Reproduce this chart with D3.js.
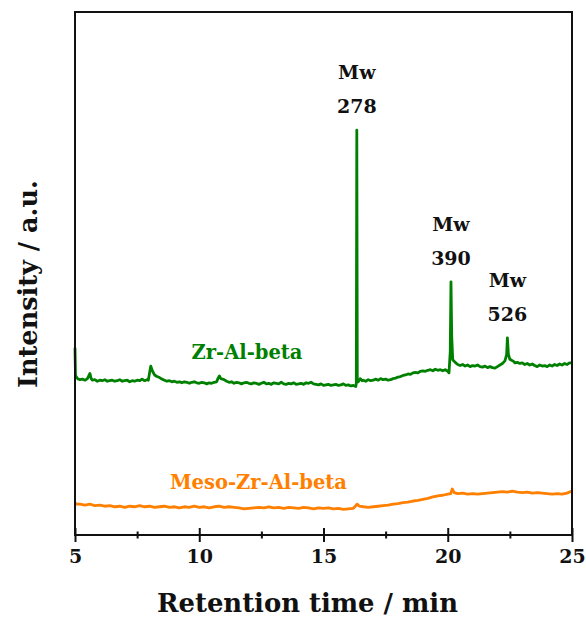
<!DOCTYPE html>
<html>
<head>
<meta charset="utf-8">
<script src="https://cdn.jsdelivr.net/npm/d3@7/dist/d3.min.js"></script>
<style>
  html, body { margin: 0; padding: 0; background: #fff; }
  svg { display: block; }
  text { font-family: "DejaVu Serif", "Liberation Serif", serif; font-weight: bold; }
</style>
</head>
<body>
<svg id="chart" width="586" height="619"></svg>
<script>
// GPC traces: retention time (min) vs detector intensity (a.u.)
const zrAlBeta = [
  [5.00,35.8],[5.02,30.5],[5.1,29.9],[5.2,29.7],[5.3,29.8],[5.4,29.6],[5.5,29.9],[5.6,30.9],[5.65,29.9],
  [5.7,29.6],[5.8,29.7],[5.9,29.4],[6.0,29.6],[6.1,29.5],[6.2,29.7],[6.3,29.4],[6.4,29.5],[6.5,29.6],
  [6.6,29.4],[6.7,29.5],[6.8,29.7],[6.9,29.4],[7.0,29.5],[7.1,29.6],[7.2,29.3],[7.3,29.5],[7.4,29.4],
  [7.5,29.6],[7.6,29.5],[7.7,29.8],[7.8,29.5],[7.9,29.7],[7.95,29.6],[8.0,31.0],[8.05,32.3],[8.11,31.4],
  [8.2,30.6],[8.3,30.3],[8.4,30.1],[8.5,29.8],[8.6,29.6],[8.7,29.4],[8.8,29.5],[8.9,29.3],[9.0,29.4],
  [9.1,29.2],[9.2,29.3],[9.3,29.1],[9.4,29.3],[9.5,29.2],[9.6,29.0],[9.7,29.2],[9.8,29.3],[9.9,29.1],
  [10.0,29.0],[10.1,29.2],[10.2,29.1],[10.3,28.9],[10.4,29.1],[10.5,29.0],[10.6,29.2],[10.7,29.3],
  [10.76,30.0],[10.81,30.4],[10.87,29.9],[11.0,29.7],[11.1,29.4],[11.2,29.2],[11.3,29.3],[11.4,29.0],
  [11.5,29.2],[11.6,29.1],[11.7,28.9],[11.8,29.1],[11.9,29.2],[12.0,29.0],[12.1,28.9],[12.2,29.1],
  [12.3,29.0],[12.4,28.8],[12.5,29.0],[12.6,29.2],[12.7,28.9],[12.8,29.0],[12.9,28.8],[13.0,29.1],
  [13.1,29.0],[13.2,28.9],[13.3,29.2],[13.4,28.9],[13.5,28.8],[13.6,29.0],[13.7,28.9],[13.8,29.1],
  [13.9,28.8],[14.0,28.9],[14.1,29.0],[14.2,28.8],[14.3,29.1],[14.4,29.0],[14.5,29.2],[14.6,28.9],
  [14.7,28.8],[14.8,28.7],[14.9,28.9],[15.0,28.6],[15.1,28.7],[15.2,28.8],[15.3,28.6],[15.4,28.7],
  [15.5,28.8],[15.6,28.6],[15.7,28.7],[15.8,28.9],[15.9,28.6],[16.0,28.7],[16.1,28.5],[16.2,28.6],
  [16.3,28.4],[16.32,29.0],[16.34,77.4],[16.36,29.6],[16.4,29.3],[16.48,29.9],[16.55,29.5],[16.6,29.6],
  [16.7,29.4],[16.8,29.7],[16.9,29.5],[17.0,29.6],[17.1,29.8],[17.2,29.6],[17.3,29.9],[17.4,29.7],
  [17.5,29.8],[17.6,29.6],[17.7,29.7],[17.8,29.9],[17.9,30.0],[18.0,30.2],[18.1,30.3],[18.2,30.5],
  [18.3,30.6],[18.4,30.8],[18.5,30.7],[18.6,31.0],[18.7,31.1],[18.8,31.0],[18.9,31.3],[19.0,31.4],
  [19.1,31.3],[19.2,31.5],[19.3,31.6],[19.4,31.4],[19.5,31.7],[19.6,31.5],[19.7,31.6],[19.8,31.4],
  [19.9,31.6],[20.0,31.3],[20.05,31.0],[20.10,35.0],[20.13,48.4],[20.16,38.0],[20.2,33.5],[20.3,33.0],
  [20.4,32.6],[20.5,32.4],[20.6,32.6],[20.7,32.3],[20.8,32.5],[20.9,32.2],[21.0,32.4],[21.1,32.3],
  [21.2,32.5],[21.3,32.2],[21.4,32.1],[21.5,32.3],[21.6,32.0],[21.7,32.2],[21.8,32.0],[21.9,31.9],
  [22.0,32.2],[22.1,32.5],[22.2,32.8],[22.3,33.3],[22.37,34.5],[22.40,37.7],[22.44,34.6],[22.5,33.6],
  [22.57,33.4],[22.65,33.2],[22.7,32.9],[22.8,33.0],[22.9,32.8],[23.0,32.9],[23.1,32.6],[23.2,32.8],
  [23.3,32.5],[23.4,32.7],[23.5,32.4],[23.6,32.2],[23.7,32.5],[23.8,32.3],[23.9,32.4],[24.0,32.2],
  [24.1,32.5],[24.2,32.3],[24.3,32.6],[24.4,32.4],[24.5,32.7],[24.6,32.5],[24.7,32.8],[24.8,32.6],
  [24.9,32.9],[25.0,32.9]
];

const mesoZrAlBeta = [
  [5.0,6.2],[5.05,5.9],[5.2,5.9],[5.4,5.7],[5.6,5.9],[5.8,5.6],[6.0,5.7],[6.2,5.5],[6.4,5.6],[6.6,5.4],
  [6.8,5.5],[7.0,5.3],[7.2,5.5],[7.4,5.4],[7.6,5.6],[7.8,5.4],[8.0,5.5],[8.2,5.3],[8.4,5.4],[8.6,5.5],
  [8.8,5.3],[9.0,5.4],[9.2,5.2],[9.4,5.4],[9.6,5.3],[9.8,5.5],[10.0,5.3],[10.2,5.4],[10.4,5.2],[10.6,5.4],
  [10.8,5.5],[11.0,5.3],[11.2,5.4],[11.4,5.3],[11.6,5.2],[11.8,5.0],[12.0,5.1],[12.2,5.2],[12.4,5.3],
  [12.6,5.2],[12.8,5.4],[13.0,5.2],[13.2,5.3],[13.4,5.1],[13.6,5.3],[13.8,5.2],[14.0,5.1],[14.2,5.3],
  [14.4,5.2],[14.6,5.0],[14.8,5.2],[15.0,5.1],[15.2,5.2],[15.4,5.0],[15.6,5.1],[15.8,4.9],[16.0,5.0],
  [16.2,5.1],[16.3,5.6],[16.35,5.9],[16.45,5.5],[16.6,5.4],[16.8,5.3],[17.0,5.4],[17.2,5.5],[17.4,5.6],
  [17.6,5.7],[17.8,5.9],[18.0,6.0],[18.2,6.2],[18.4,6.3],[18.6,6.5],[18.8,6.6],[19.0,6.8],[19.2,7.0],
  [19.4,7.3],[19.6,7.5],[19.8,7.6],[20.0,7.8],[20.12,7.9],[20.18,8.8],[20.26,8.1],[20.4,7.9],[20.6,8.0],
  [20.8,7.8],[21.0,7.9],[21.2,7.8],[21.4,7.9],[21.6,8.0],[21.8,8.1],[22.0,8.2],[22.2,8.3],[22.4,8.2],
  [22.6,8.4],[22.8,8.2],[23.0,8.1],[23.2,8.2],[23.4,8.0],[23.6,8.1],[23.8,8.0],[24.0,7.9],[24.2,7.8],
  [24.4,7.9],[24.6,7.8],[24.8,8.0],[25.0,8.4]
];

// Peaks annotated with molecular weight
const peakTimes = [16.34, 20.13, 22.40];
const peakHeights = [77.4, 48.4, 37.7];
const peakMw = ["278", "390", "526"];

const majorTicks = [5, 10, 15, 20, 25];
const minorTicks = [7.5, 12.5, 17.5, 22.5];

const seriesNames = ["Zr-Al-beta", "Meso-Zr-Al-beta"];
const seriesColors = ["#008000", "#ff8000"];

const svg = d3.select("#chart");
const plotLeft = 75, plotRight = 572, plotTop = 12, plotBottom = 535;

const x = d3.scaleLinear().domain([5, 25]).range([plotLeft, plotRight]);
const y = d3.scaleLinear().domain([0, 100]).range([plotBottom, plotTop]);

const line = d3.line().x(d => x(d[0])).y(d => y(d[1]));

// traces
[zrAlBeta, mesoZrAlBeta].forEach((data, i) => {
  svg.append("path")
    .datum(data)
    .attr("d", line)
    .attr("fill", "none")
    .attr("stroke", seriesColors[i])
    .attr("stroke-width", 2.8)
    .attr("stroke-linejoin", "round");
});

// frame
svg.append("rect")
  .attr("x", plotLeft).attr("y", plotTop)
  .attr("width", plotRight - plotLeft).attr("height", plotBottom - plotTop)
  .attr("fill", "none").attr("stroke", "#111").attr("stroke-width", 2);

// bottom axis, ticks crossing the frame line
const axisG = svg.append("g").attr("transform", `translate(0,${plotBottom})`);
axisG.call(d3.axisBottom(x).tickValues(majorTicks).tickFormat(d3.format("d")).tickSize(7));
axisG.select(".domain").remove();
axisG.selectAll(".tick line").attr("y1", -7).attr("y2", 7).attr("stroke", "#111").attr("stroke-width", 2);
axisG.selectAll(".tick text")
  .attr("y", 27.5).attr("dy", 0)
  .attr("font-size", 19).attr("fill", "#111")
  .style("font-family", "'DejaVu Serif', serif").style("font-weight", "bold");

const minorG = svg.append("g").attr("transform", `translate(0,${plotBottom})`);
minorG.call(d3.axisBottom(x).tickValues(minorTicks).tickFormat("").tickSize(3.5));
minorG.select(".domain").remove();
minorG.selectAll(".tick line").attr("y1", -3.5).attr("y2", 3.5).attr("stroke", "#111").attr("stroke-width", 2);

// fit a label to a given width
function fitWidth(sel, w) {
  const cur = sel.node().getComputedTextLength();
  const fs = parseFloat(sel.attr("font-size"));
  sel.attr("font-size", (fs * w / cur).toFixed(2));
  return sel;
}

// axis titles
fitWidth(svg.append("text")
  .attr("x", 307.5).attr("y", 612)
  .attr("text-anchor", "middle").attr("font-size", 25).attr("fill", "#111")
  .text("Retention time / min"), 301);

fitWidth(svg.append("text")
  .attr("transform", "translate(37,284) rotate(-90)")
  .attr("text-anchor", "middle").attr("font-size", 22).attr("fill", "#111")
  .text("Intensity / a.u."), 208);

// series labels
fitWidth(svg.append("text")
  .attr("x", 247).attr("y", 359)
  .attr("text-anchor", "middle").attr("font-size", 19).attr("fill", seriesColors[0])
  .text(seriesNames[0]), 111);

fitWidth(svg.append("text")
  .attr("x", 258.5).attr("y", 489)
  .attr("text-anchor", "middle").attr("font-size", 19).attr("fill", seriesColors[1])
  .text(seriesNames[1]), 177);

// Mw annotations above each peak
peakTimes.forEach((t, i) => {
  const px = x(t), py = y(peakHeights[i]);
  svg.append("text")
    .attr("x", px).attr("y", py - 17)
    .attr("text-anchor", "middle").attr("font-size", 19).attr("fill", "#111")
    .text(peakMw[i]);
  svg.append("text")
    .attr("x", px).attr("y", py - 51)
    .attr("text-anchor", "middle").attr("font-size", 19).attr("fill", "#111")
    .text("Mw");
});
</script>
</body>
</html>
